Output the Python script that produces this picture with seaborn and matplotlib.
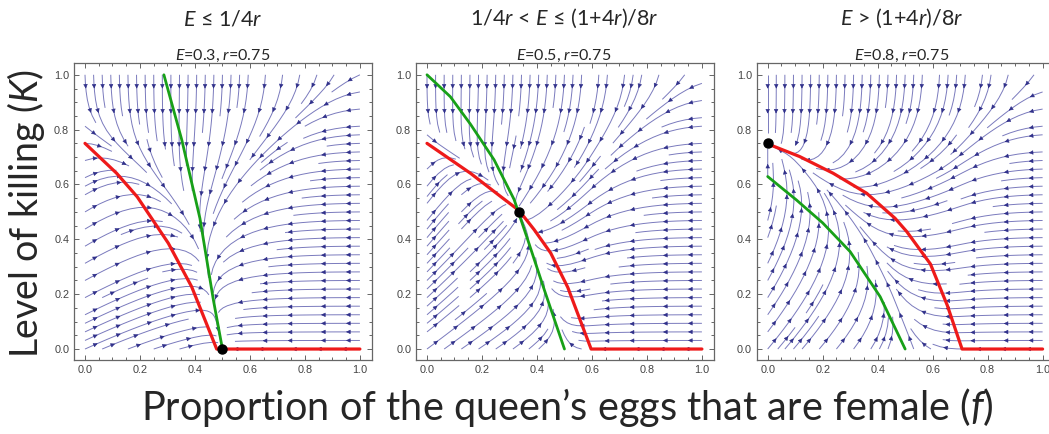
import numpy as np
import matplotlib
matplotlib.use("Agg")
import matplotlib.pyplot as plt
from matplotlib.ticker import MultipleLocator
from matplotlib.patches import FancyArrowPatch
import seaborn as sns

# values
E_values = [0.3, 0.5, 0.8]
r_value = 0.75
titles = [r"$E$ ≤ 1/4$r$", r"1/4$r$ < $E$ ≤ (1+4$r$)/8$r$", r"$E$ > (1+4$r$)/8$r$"]

# red curve (workers' best killing level)
red1_f = [0.0, 0.115, 0.19, 0.303, 0.388, 0.479, 1.0]
red1_K = [0.75, 0.641, 0.555, 0.386, 0.227, 0.0, 0.0]
red2_f = [0.0, 0.158, 0.268, 0.335, 0.39, 0.45, 0.512, 0.597, 1.0]
red2_K = [0.75, 0.641, 0.556, 0.505, 0.435, 0.35, 0.225, 0.0, 0.0]
red3_f = [0.0, 0.116, 0.238, 0.36, 0.463, 0.506, 0.592, 0.653, 0.707, 1.0]
red3_K = [0.748, 0.702, 0.641, 0.568, 0.477, 0.428, 0.31, 0.16, 0.0, 0.0]

# green curve (queen's best sex ratio)
green1_f = [0.287, 0.352, 0.418, 0.467, 0.5]
green1_K = [1.0, 0.763, 0.477, 0.179, 0.0]
green2_f = [0.0, 0.085, 0.158, 0.244, 0.317, 0.366, 0.427, 0.5]
green2_K = [1.0, 0.92, 0.82, 0.69, 0.545, 0.40, 0.215, 0.0]
green3_f = [0.0, 0.104, 0.2, 0.3, 0.409, 0.5]
green3_K = [0.629, 0.544, 0.46, 0.355, 0.191, 0.0]

# stable points
eq_f = [0.5, 1 / 3, 0.0]
eq_K = [0.0, 0.5, 0.75]

reds = [(red1_f, red1_K), (red2_f, red2_K), (red3_f, red3_K)]
greens = [(green1_f, green1_K), (green2_f, green2_K), (green3_f, green3_K)]

sns.set_theme(style="ticks")
plt.rcParams["font.family"] = ["Lato", "DejaVu Sans"]
plt.rcParams["mathtext.fontset"] = "custom"
plt.rcParams["mathtext.rm"] = "Lato"
plt.rcParams["mathtext.it"] = "Lato:italic"

fig = plt.figure(figsize=(10.49, 4.34), dpi=100)
W, H = 1049, 434
lefts = [74, 416, 756.7]
centres = [223, 564, 902]

grid = np.linspace(0, 1, 101)
F, KK = np.meshgrid(grid, grid)


def add_arrows(ax, seg, step=0.1):
    # arrowheads spaced along one streamline, Mathematica style
    d = np.hypot(np.diff(seg[:, 0]), np.diff(seg[:, 1]))
    s = np.concatenate([[0], np.cumsum(d)])
    if s[-1] < 0.04:
        return
    for pos in np.arange(step / 2, s[-1] - 0.01, step):
        j = min(np.searchsorted(s, pos), len(seg) - 1)
        j0 = max(j - 1, 0)
        if j == j0:
            continue
        ax.add_patch(FancyArrowPatch(seg[j0], seg[j], arrowstyle="-|>",
                                     mutation_scale=6.5, color="#30308a",
                                     lw=0.4, zorder=2))


for i in range(3):
    ax = fig.add_axes([lefts[i] / W, 74 / H, 298 / W, 297 / H])
    rf, rK = reds[i]
    gf, gK = greens[i]
    E = E_values[i]

    # direction field: pulls f towards the green curve, K towards the red one
    u = (np.interp(KK, gK[::-1], gf[::-1]) - F) / (1.1 - F) ** 2
    v = E * (np.interp(F, rf, rK) - KK) / (1.1 - KK) ** 2
    sp = ax.streamplot(grid, grid, u, v, density=1.1, linewidth=0.7,
                       color="#7a7abd", arrowsize=0.6, arrowstyle="-")
    for p in list(ax.patches):
        p.remove()
    for seg in sp.lines.get_segments():
        add_arrows(ax, np.asarray(seg))

    sns.lineplot(x=rf, y=rK, sort=False, estimator=None, color="#ee1a1a",
                 lw=2.3, ax=ax)
    sns.lineplot(x=gf, y=gK, sort=False, estimator=None, color="#18a018",
                 lw=2.0, ax=ax)
    ax.plot(eq_f[i], eq_K[i], "o", color="black", ms=6.5, zorder=6, clip_on=False)

    ax.set_xlim(-0.04, 1.044)
    ax.set_ylim(-0.04, 1.043)
    ax.set_xlabel("")
    ax.set_ylabel("")
    ax.xaxis.set_major_locator(MultipleLocator(0.2))
    ax.yaxis.set_major_locator(MultipleLocator(0.2))
    ax.xaxis.set_minor_locator(MultipleLocator(0.05))
    ax.yaxis.set_minor_locator(MultipleLocator(0.05))
    ax.xaxis.set_major_formatter(lambda x, p: f"{x:.1f}")
    ax.yaxis.set_major_formatter(lambda x, p: f"{x:.1f}")
    ax.tick_params(which="both", direction="in", top=True, right=True,
                   color="#666666", width=0.7, labelsize=7.8,
                   labelcolor="#444444")
    ax.tick_params(which="major", length=3.5)
    ax.tick_params(which="minor", length=2)
    for lab in ax.get_xticklabels() + ax.get_yticklabels():
        lab.set_family("Liberation Sans")
    for s in ax.spines.values():
        s.set_color("#666666")
        s.set_linewidth(0.9)

    fig.text(centres[i] / W, 1 - 25 / H, titles[i], ha="center", va="baseline",
             fontsize=15.5)
    fig.text(centres[i] / W, 1 - 60 / H, rf"$E$={E}, $r$={r_value}",
             ha="center", va="baseline", fontsize=11.5)

fig.text(567 / W, 1 - 420 / H, r"Proportion of the queen’s eggs that are female ($f$)",
         ha="center", va="baseline", fontsize=28.5)
fig.text(26 / W, 1 - 214 / H, r"Level of killing ($K$)", rotation=90,
         ha="center", va="center", fontsize=27)

fig.savefig("out.png", dpi=100)
